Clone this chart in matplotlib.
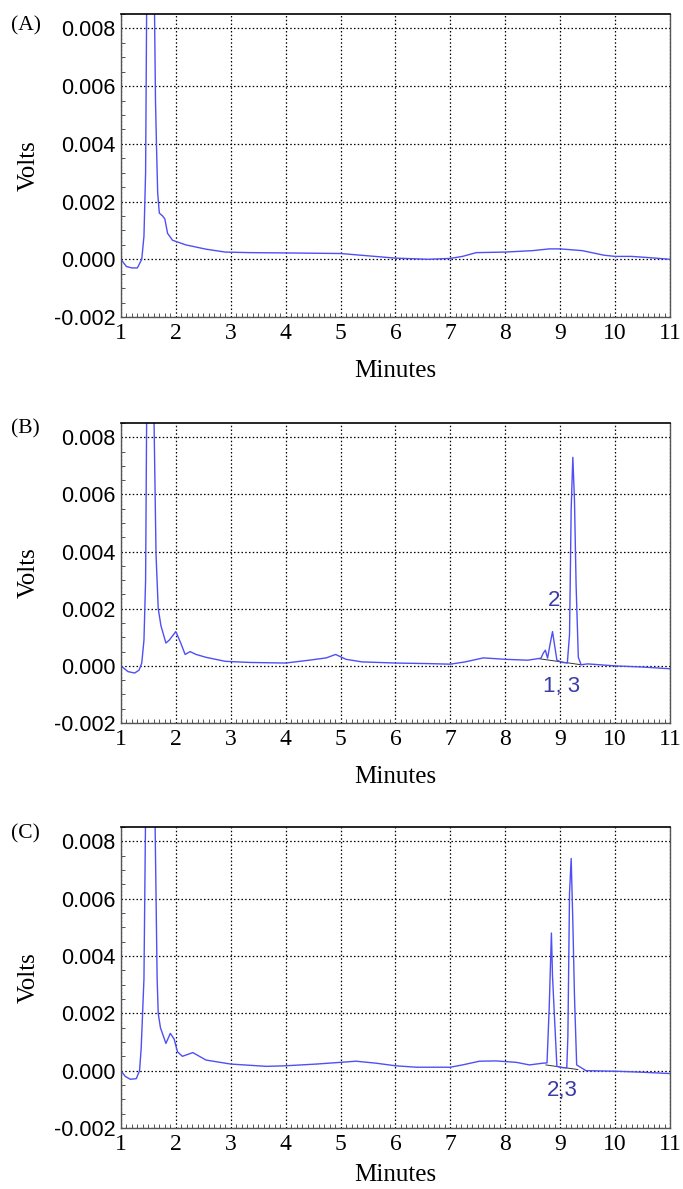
import numpy as np
import matplotlib
matplotlib.use("Agg")
import matplotlib.pyplot as plt
from matplotlib.ticker import MultipleLocator, FormatStrFormatter

# --- data (minutes, volts) ---
time_a = [1.0, 1.1, 1.2, 1.3, 1.38, 1.42, 1.45, 1.47, 1.52, 1.58, 1.61, 1.63, 1.65, 1.67,
          1.7, 1.76, 1.8, 1.85, 1.94, 2.18, 2.55, 2.9, 3.35, 4.0, 5.0, 5.5, 6.0, 6.6, 7.0,
          7.22, 7.47, 8.0, 8.5, 8.8, 9.0, 9.4, 9.8, 10.0, 10.3, 10.6, 11.0]
volts_a = [0.0, -0.00025, -0.0003, -0.0003, 0.0, 0.0008, 0.003, 0.009, 0.03, 0.02, 0.009,
           0.0055, 0.0038, 0.0023, 0.0016, 0.0015, 0.0014, 0.0009, 0.00066, 0.0005, 0.00035,
           0.00025, 0.00023, 0.00022, 0.0002, 0.00012, 0.00004, 0.0, 0.00003, 0.0001,
           0.00023, 0.00025, 0.0003, 0.00036, 0.00036, 0.0003, 0.00014, 0.0001, 0.0001,
           0.00006, 0.0]

time_b = [1.0, 1.13, 1.25, 1.33, 1.38, 1.42, 1.45, 1.47, 1.52, 1.57, 1.6, 1.64, 1.68,
          1.73, 1.82, 1.88, 2.0, 2.09, 2.17, 2.26, 2.37, 2.55, 2.9, 3.35, 4.0, 4.43, 4.74,
          4.91, 5.1, 5.39, 6.0, 6.6, 7.0, 7.27, 7.6, 8.0, 8.41, 8.65, 8.69, 8.73, 8.77,
          8.81, 8.86, 8.9, 8.94, 9.04, 9.13, 9.17, 9.2, 9.23, 9.26, 9.29, 9.33, 9.38, 9.5,
          10.0, 10.5, 11.0]
volts_b = [0.0, -0.0002, -0.00025, -0.00015, 0.0001, 0.0009, 0.003, 0.009, 0.03, 0.02,
           0.009, 0.0039, 0.002, 0.0014, 0.0008, 0.0009, 0.0012, 0.0008, 0.0004, 0.0005,
           0.0004, 0.0003, 0.00016, 0.00012, 0.0001, 0.0002, 0.00028, 0.0004, 0.00023,
           0.00014, 0.0001, 0.00008, 0.00006, 0.00014, 0.00028, 0.00023, 0.0002, 0.00027,
           0.00044, 0.00055, 0.00027, 0.0007, 0.0012, 0.0007, 0.0002, 0.00012, 0.0001,
           0.0011, 0.0055, 0.0073, 0.0058, 0.0028, 0.0003, 0.00004, 0.00007, 0.0, -0.00004,
           -0.0001]

time_c = [1.0, 1.08, 1.17, 1.28, 1.34, 1.37, 1.42, 1.45, 1.52, 1.58, 1.62, 1.66, 1.68,
          1.72, 1.82, 1.9, 1.97, 2.03, 2.12, 2.31, 2.55, 3.0, 3.65, 4.0, 4.56, 5.0, 5.28,
          5.65, 6.0, 6.38, 7.0, 7.22, 7.53, 7.83, 8.2, 8.44, 8.68, 8.76, 8.8, 8.84, 8.86,
          8.9, 8.94, 9.05, 9.12, 9.14, 9.17, 9.2, 9.23, 9.26, 9.3, 9.47, 10.0, 10.44, 11.0]
volts_c = [0.0, -0.0002, -0.0003, -0.00028, 0.0, 0.0008, 0.0032, 0.009, 0.03, 0.02,
           0.009, 0.0032, 0.002, 0.0015, 0.00095, 0.0013, 0.0011, 0.00066, 0.0005, 0.00063,
           0.00037, 0.00023, 0.00015, 0.00017, 0.00023, 0.00029, 0.00033, 0.00026, 0.00017,
           0.00012, 0.00012, 0.0002, 0.00033, 0.00034, 0.00029, 0.0002, 0.00026, 0.00027,
           0.0022, 0.0048, 0.0033, 0.0017, 0.00015, 0.0001, 0.0001, 0.0012, 0.0062, 0.0074,
           0.0052, 0.0026, 0.0002, 0.0, -0.00002, -0.00005, -0.0001]

# integration baselines under the peaks
base_b_t = [8.62, 9.38]
base_b_v = [0.00025, 0.00004]
base_c_t = [8.74, 9.32]
base_c_v = [0.0002, 0.00004]

panel_labels = ["(A)", "(B)", "(C)"]
peak_notes = [[], [("2", 8.88, 0.0023), ("1, 3", 9.02, -0.00072)],
              [("2,3", 9.04, -0.0007)]]

x_ticks = list(range(1, 12))
y_ticks = [-0.002, 0.0, 0.002, 0.004, 0.006, 0.008]

trace_color = "#4f4ff5"
note_color = "#3b3ba8"

fig = plt.figure(figsize=(6.83, 11.89), dpi=100)
# axes rectangles (left, bottom, width, height) in figure fraction
rects = [[0.177, 0.7334, 0.804, 0.2548],
         [0.177, 0.3919, 0.804, 0.2523],
         [0.177, 0.0513, 0.804, 0.2532]]
label_y = [0.978, 0.639, 0.299]
xlabel_pads = [12, 12, 7]

series = [(time_a, volts_a, None, None),
          (time_b, volts_b, base_b_t, base_b_v),
          (time_c, volts_c, base_c_t, base_c_v)]

for i, (t, v, bt, bv) in enumerate(series):
    ax = fig.add_axes(rects[i])
    ax.set_axisbelow(True)
    ax.grid(True, color="black", linestyle=(0, (1.2, 1.8)), linewidth=0.9)
    if bt is not None:
        ax.plot(bt, bv, color="#333333", linewidth=0.7)
    ax.plot(t, v, color=trace_color, linewidth=1.0)

    ax.set_xlim(1, 11)
    ax.set_ylim(-0.002, 0.0085)
    ax.set_xticks(x_ticks)
    ax.set_yticks(y_ticks)
    ax.xaxis.set_minor_locator(MultipleLocator(0.1))
    ax.yaxis.set_minor_locator(MultipleLocator(0.0005))
    ax.yaxis.set_major_formatter(FormatStrFormatter("%.3f"))
    ax.tick_params(which="major", direction="in", length=0, pad=4)
    ax.tick_params(which="minor", direction="in", length=3, width=0.7, color="#555555")
    for lab in ax.get_yticklabels():
        lab.set_fontfamily("Liberation Sans")
        lab.set_fontsize(15.5)
    for lab in ax.get_xticklabels():
        lab.set_fontfamily("Liberation Serif")
        lab.set_fontsize(17)
    for side in ["left", "bottom", "right"]:
        ax.spines[side].set_color("#555555")
        ax.spines[side].set_linewidth(1.0)
    ax.spines["top"].set_color("black")
    ax.spines["top"].set_linewidth(1.2)

    ax.set_xlabel("Minutes", fontfamily="Liberation Serif", fontsize=18,
                  labelpad=xlabel_pads[i])
    ax.set_ylabel("Volts", fontfamily="Liberation Serif", fontsize=18, labelpad=10)

    for txt, tx, ty in peak_notes[i]:
        ax.text(tx, ty, txt, color=note_color, fontsize=16, fontfamily="Liberation Sans",
                ha="center", va="center")

    fig.text(0.016, label_y[i], panel_labels[i], fontfamily="Liberation Serif",
             fontsize=15.5, ha="left", va="center")

fig.savefig("out.png", dpi=100)
